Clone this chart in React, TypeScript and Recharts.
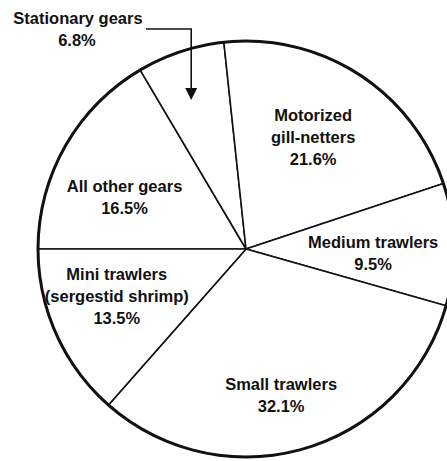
import { PieChart, Pie, Cell } from 'recharts';

// slices in clockwise order, starting at 9 o'clock
const gearNames = [
  'All other gears',
  'Stationary gears',
  'Motorized gill-netters',
  'Medium trawlers',
  'Small trawlers',
  'Mini trawlers (sergestid shrimp)',
];
const gearShares = [16.5, 6.8, 21.6, 9.5, 32.1, 13.5];
const gearLabelLines = [
  ['All other gears'],
  ['Stationary gears'],
  ['Motorized', 'gill-netters'],
  ['Medium trawlers'],
  ['Small trawlers'],
  ['Mini trawlers', '(sergestid shrimp)'],
];

const data = gearNames.map((name, i) => ({ name, value: gearShares[i], lines: gearLabelLines[i] }));
const ring = [{ name: 'outline', value: 1 }];

const INK = '#111';
const FONT = '"Liberation Sans", Arial, Helvetica, sans-serif';
const LINE_H = 22;
const RAD = Math.PI / 180;

// small hand nudges so the labels sit where the original typesetter put them
const nudge: Record<string, [number, number]> = {
  'All other gears': [-4, 15],
  'Motorized gill-netters': [-6, 2],
  'Medium trawlers': [-8, 7],
  'Small trawlers': [-3, 16],
  'Mini trawlers (sergestid shrimp)': [-6, -9],
  'Stationary gears': [-5, 1],
};

function polar(cx: number, cy: number, r: number, angle: number) {
  return { x: cx + r * Math.cos(-angle * RAD), y: cy + r * Math.sin(-angle * RAD) };
}

function TextBlock({ x, y, lines }: { x: number; y: number; lines: string[] }) {
  const top = y - ((lines.length - 1) * LINE_H) / 2;
  return (
    <text
      x={x}
      y={top}
      textAnchor='middle'
      dominantBaseline='central'
      fill={INK}
      fontFamily={FONT}
      fontWeight={700}
      fontSize={16.5}
    >
      {lines.map((l, i) => (
        <tspan key={i} x={x} y={top + i * LINE_H}>
          {l}
        </tspan>
      ))}
    </text>
  );
}

function renderLabel(props: any) {
  const { cx, cy, midAngle, outerRadius, payload, value } = props;
  const name = payload.name as string;
  const lines = [...(payload.lines as string[]), `${Number(value).toFixed(1)}%`];
  const [dx, dy] = nudge[name] ?? [0, 0];

  if (name === 'Stationary gears') {
    // narrow wedge: label sits outside with an elbow arrow pointing in
    const tip = polar(cx, cy, outerRadius * 0.76, midAngle);
    const tx = tip.x + dx;
    const ty = tip.y + dy;
    const elbowY = cy - outerRadius - 12;
    const textX = cx - 168;
    return (
      <g>
        <path
          d={`M${textX + 68},${elbowY} L${tx},${elbowY} L${tx},${ty - 12}`}
          fill='none'
          stroke={INK}
          strokeWidth={1.6}
        />
        <path d={`M${tx - 6},${ty - 12} L${tx + 6},${ty - 12} L${tx},${ty} Z`} fill={INK} />
        <TextBlock x={textX} y={elbowY - 11} lines={[lines[0]]} />
        <TextBlock x={textX - 1} y={elbowY + 11} lines={[lines[1]]} />
      </g>
    );
  }

  const p = polar(cx, cy, outerRadius * 0.65, midAngle);
  return <TextBlock x={p.x + dx} y={p.y + dy} lines={lines} />;
}

export default function App() {
  return (
    <div style={{ position: 'absolute', left: 0, top: 0, background: '#fff' }}>
      <PieChart width={447} height={461} margin={{ top: 0, right: 0, bottom: 0, left: 0 }}>
        <Pie
          data={data}
          dataKey='value'
          nameKey='name'
          cx={246}
          cy={249}
          outerRadius={208}
          startAngle={180}
          endAngle={-180}
          stroke={INK}
          strokeWidth={1.6}
          label={renderLabel}
          labelLine={false}
          isAnimationActive={false}
        >
          {data.map((d) => (
            <Cell key={d.name} fill='#fff' stroke={INK} />
          ))}
        </Pie>
        <Pie
          data={ring}
          dataKey='value'
          cx={246}
          cy={249}
          innerRadius={206.5}
          outerRadius={209.5}
          startAngle={90}
          endAngle={450}
          fill={INK}
          stroke='none'
          isAnimationActive={false}
        />
      </PieChart>
    </div>
  );
}
